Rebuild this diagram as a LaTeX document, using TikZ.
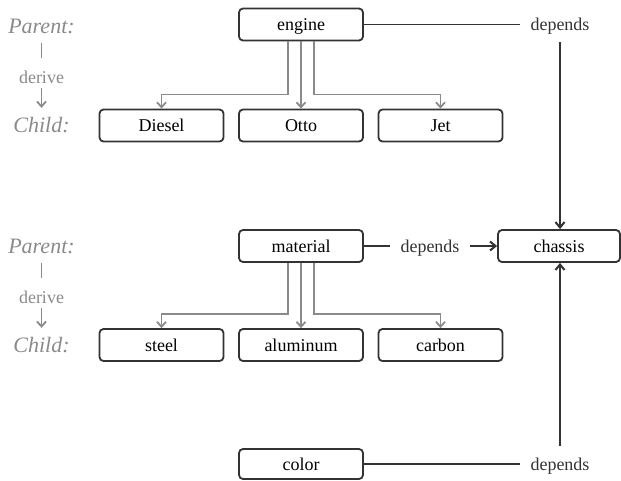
\documentclass[tikz,border=0pt]{standalone}
\usepackage{fontspec}
\setmainfont{Liberation Serif}
\usetikzlibrary{arrows.meta}
\definecolor{ink}{HTML}{333333}
\definecolor{soft}{HTML}{8A8A8A}
\begin{document}
\begin{tikzpicture}[x=1pt,y=-1pt,
  item/.style={draw=ink, line width=1.8pt, rounded corners=4pt,
    minimum width=124pt, minimum height=32pt, inner sep=0pt,
    font=\fontsize{18}{20}\selectfont, text height=12pt, text depth=0pt},
  role/.style={text=soft, font=\fontsize{22}{24}\selectfont\itshape,
    inner sep=0pt, text height=15pt, text depth=5pt},
  verb/.style={text=soft, font=\fontsize{18}{20}\selectfont,
    inner sep=0pt, text height=13pt, text depth=4pt},
  deplabel/.style={text=ink, font=\fontsize{18}{20}\selectfont,
    text height=12pt, text depth=0pt, inner xsep=10pt, inner ysep=11.5pt},
  softline/.style={draw=soft, line width=1.6pt},
  softarrow/.style={softline, -{Straight Barb[length=5pt,width=9pt,line width=1.8pt]}},
  depline/.style={draw=ink, line width=1.8pt},
  deparrow/.style={depline, -{Straight Barb[length=5.5pt,width=9pt,line width=2pt]}}
]
\useasboundingbox (0,0) rectangle (621,480);

% legend: parent / derive / child
\node[role] (par1) at (41.5,28) {Parent:};
\node[verb] (der1) at (41.5,78.5) {derive};
\node[role] (chi1) at (41.5,127) {Child:};
\node[role] (par2) at (41.5,248) {Parent:};
\node[verb] (der2) at (41.5,298.5) {derive};
\node[role] (chi2) at (41.5,347) {Child:};
\foreach \p/\d/\c in {par1/der1/chi1, par2/der2/chi2}{
  \draw[softline, shorten <=5pt, shorten >=12pt] (\p.south) -- (\d.north);
  \draw[softarrow, shorten <=1pt, shorten >=9pt] (\d.south) -- (\c.north);
}

% component boxes
\node[item] (engine) at (301,24.5) {engine};
\node[item] (diesel) at (161.5,125.5) {Diesel};
\node[item] (otto) at (301,125.5) {Otto};
\node[item] (jet) at (440.5,125.5) {Jet};
\node[item] (material) at (301,246) {material};
\node[item, minimum width=122pt] (chassis) at (559,246) {chassis};
\node[item] (steel) at (161.5,345) {steel};
\node[item] (aluminum) at (301,345) {aluminum};
\node[item] (carbon) at (440.5,345) {carbon};
\node[item, minimum height=30pt] (color) at (301,464) {color};

% derivation arrows
\foreach \p/\a/\b/\c in {engine/diesel/otto/jet, material/steel/aluminum/carbon}{
  \draw[softarrow] ([xshift=-13pt]\p.south) |- ([yshift=14pt]\a.north) -- (\a.north);
  \draw[softarrow] (\p.south) -- (\b.north);
  \draw[softarrow] ([xshift=13pt]\p.south) |- ([yshift=14pt]\c.north) -- (\c.north);
}

% dependencies
\node[deplabel] (dep1) at (560,24.5) {depends};
\node[deplabel] (dep2) at (430,246) {depends};
\node[deplabel] (dep3) at (560,464) {depends};
\draw[depline] (engine.east) -- (engine.east -| dep1.west);
\draw[deparrow] (dep1.south) -- (dep1.south |- chassis.north);
\draw[depline] (material.east) -- (dep2.west);
\draw[deparrow] (dep2.east) -- (chassis.west);
\draw[depline] (color.east) -- (color.east -| dep3.west);
\draw[deparrow] (dep3.north) -- (dep3.north |- chassis.south);
\end{tikzpicture}
\end{document}
